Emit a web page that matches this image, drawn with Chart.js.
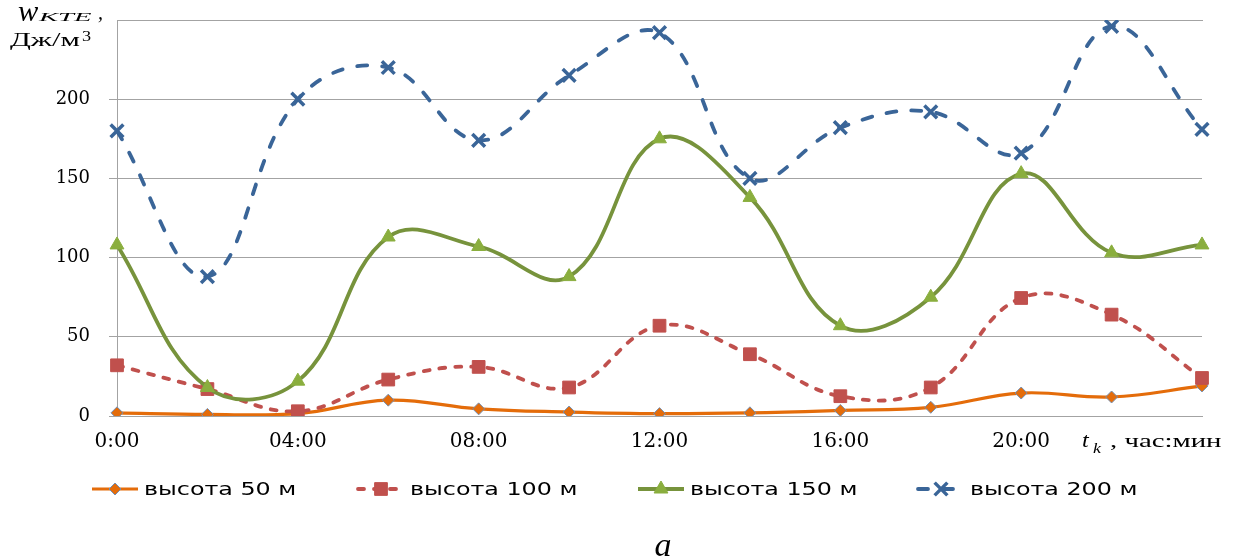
<!DOCTYPE html>
<html lang="ru">
<head>
<meta charset="utf-8">
<title>w KTE</title>
<script src="https://cdn.jsdelivr.net/npm/chart.js@4.4.1/dist/chart.umd.min.js"></script>
<style>
  html, body { margin: 0; padding: 0; background: #fff; }
  #chart { display: block; }
</style>
</head>
<body>
<canvas id="chart" width="1235" height="560"></canvas>
<script>
// time of day, every 2 hours
const times = ['0:00', '02:00', '04:00', '06:00', '08:00', '10:00', '12:00',
  '14:00', '16:00', '18:00', '20:00', '22:00', '24:00'];
const tickLabels = ['0:00', '', '04:00', '', '08:00', '', '12:00', '', '16:00', '', '20:00', '', ''];

const seriesNames = ['высота 50 м', 'высота 100 м', 'высота 150 м', 'высота 200 м'];
const h50 = [2, 1, 1.5, 10, 4.5, 2.5, 1.5, 2, 3.5, 5.5, 14.5, 12, 19];
const h100 = [32, 17, 3, 23, 31, 18, 57, 39, 12.5, 18, 74.5, 64, 24];
const h150 = [108, 18, 22, 113, 107, 88, 175, 138, 57, 75, 153, 103, 108];
const h200 = [180, 88, 200, 220, 174, 215, 242, 150, 182, 192, 166, 246, 181];

const yTicks = [0, 50, 100, 150, 200];

const gridGrey = '#a3a3a3';

// stretched text helper for the captions drawn on the canvas
function wideText(ctx, text, x, y, font, sx) {
  ctx.save();
  ctx.font = font;
  ctx.fillStyle = '#000';
  ctx.textBaseline = 'alphabetic';
  ctx.textAlign = 'left';
  ctx.translate(x, y);
  ctx.scale(sx, 1);
  ctx.fillText(text, 0, 0);
  ctx.restore();
}

const legendStarts = [92, 358, 638, 918];

const captions = {
  id: 'captions',
  afterDraw(chart) {
    const ctx = chart.ctx;

    // y axis title
    wideText(ctx, 'w', 18, 21, 'italic 29px "Liberation Serif"', 1.05);
    wideText(ctx, 'KTE', 39, 21, 'italic 13px "Liberation Serif"', 2.2);
    wideText(ctx, ',', 98, 19, 'italic 20px "Liberation Serif"', 1);
    wideText(ctx, 'Дж/м', 10, 46, '18px "Liberation Serif"', 1.7);
    wideText(ctx, '3', 82, 41, '14px "Liberation Serif"', 1.3);

    // x axis title
    wideText(ctx, 't', 1082, 447, 'italic 22px "Liberation Serif"', 1.1);
    wideText(ctx, 'k', 1093, 453, 'italic 15px "Liberation Serif"', 1.2);
    wideText(ctx, ', час:мин', 1110, 447, '18px "Liberation Serif"', 1.6);

    // legend row
    const ly = 489;
    chart.data.datasets.forEach((ds, i) => {
      const x0 = legendStarts[i];
      ctx.save();
      ctx.strokeStyle = ds.borderColor;
      ctx.lineWidth = ds.borderWidth;
      ctx.lineCap = ds.borderCapStyle || 'butt';
      ctx.setLineDash(ds.borderDash || []);
      ctx.beginPath();
      ctx.moveTo(x0, ly);
      ctx.lineTo(x0 + 46, ly);
      ctx.stroke();
      ctx.setLineDash([]);
      ctx.lineCap = 'butt';
      ctx.fillStyle = ds.pointBackgroundColor;
      ctx.strokeStyle = ds.pointBorderColor;
      ctx.lineWidth = ds.pointBorderWidth;
      Chart.helpers.drawPoint(ctx, {
        pointStyle: ds.pointStyle, radius: ds.pointRadius, borderWidth: ds.pointBorderWidth, rotation: 0
      }, x0 + 23, ly);
      ctx.restore();
      wideText(ctx, ds.label, x0 + 52, ly + 6, '17px "DejaVu Sans"', 1.4);
    });

    // panel letter
    ctx.save();
    ctx.font = 'italic 34px "Liberation Serif"';
    ctx.fillStyle = '#000';
    ctx.textAlign = 'center';
    ctx.fillText('a', 663, 556);
    ctx.restore();
  }
};

new Chart(document.getElementById('chart'), {
  type: 'line',
  data: {
    labels: times,
    datasets: [
      {
        label: seriesNames[0], data: h50,
        borderColor: '#E46C0A', backgroundColor: '#E46C0A', borderWidth: 3.2,
        pointStyle: 'rectRot', pointRadius: 6,
        pointBackgroundColor: '#E46C0A', pointBorderColor: '#7390b5', pointBorderWidth: 1,
        tension: 0.4, order: 4
      },
      {
        label: seriesNames[1], data: h100,
        borderColor: '#C0504D', backgroundColor: '#C0504D', borderWidth: 3.8,
        borderDash: [6, 10], borderCapStyle: 'round',
        pointStyle: 'rect', pointRadius: 9,
        pointBackgroundColor: '#C0504D', pointBorderColor: '#C0504D', pointBorderWidth: 1,
        tension: 0.4, order: 3
      },
      {
        label: seriesNames[2], data: h150,
        borderColor: '#77933C', backgroundColor: '#8AAE3E', borderWidth: 3.8,
        pointStyle: 'triangle', pointRadius: 8,
        pointBackgroundColor: '#8AAE3E', pointBorderColor: '#8AAE3E', pointBorderWidth: 1,
        tension: 0.4, order: 2
      },
      {
        label: seriesNames[3], data: h200,
        borderColor: '#3A6598', backgroundColor: '#3A6598', borderWidth: 3.8,
        borderDash: [10, 15], borderCapStyle: 'round',
        pointStyle: 'crossRot', pointRadius: 9,
        pointBackgroundColor: '#3A6598', pointBorderColor: '#3A6598', pointBorderWidth: 3.5,
        tension: 0.4, order: 1
      }
    ]
  },
  options: {
    responsive: false,
    animation: false,
    devicePixelRatio: 1,
    layout: { padding: { top: 20, right: 33, bottom: 0, left: 0 } },
    plugins: {
      legend: { display: false },
      tooltip: { enabled: false }
    },
    scales: {
      x: {
        grid: { display: false, drawTicks: false },
        border: { display: true, color: gridGrey },
        ticks: {
          autoSkip: false, maxRotation: 0, minRotation: 0, padding: 14, color: '#000',
          font: { family: 'DejaVu Serif', size: 20 },
          callback: (v, i) => tickLabels[i]
        },
        afterFit: s => { s.height = 144; s.paddingLeft = 0; s.paddingRight = 0; }
      },
      // top edge of the plot area (the 250 line)
      xTop: {
        type: 'category', position: 'top',
        grid: { display: false, drawTicks: false },
        border: { display: true, color: gridGrey },
        ticks: { display: false },
        afterFit: s => { s.height = 0; s.paddingLeft = 0; s.paddingRight = 0; }
      },
      y: {
        min: 0, max: 250,
        grid: {
          color: gridGrey, tickLength: 8,
          tickColor: c => (c.tick && yTicks.includes(c.tick.value)) ? gridGrey : 'rgba(0,0,0,0)'
        },
        border: { display: true, color: gridGrey },
        ticks: {
          stepSize: 50, padding: 19, color: '#000',
          font: { family: 'DejaVu Serif', size: 18 },
          callback: v => yTicks.includes(v) ? String(v) : ''
        },
        afterFit: s => { s.width = 117; s.paddingTop = 0; s.paddingBottom = 0; }
      }
    }
  },
  plugins: [captions]
});
</script>
</body>
</html>
